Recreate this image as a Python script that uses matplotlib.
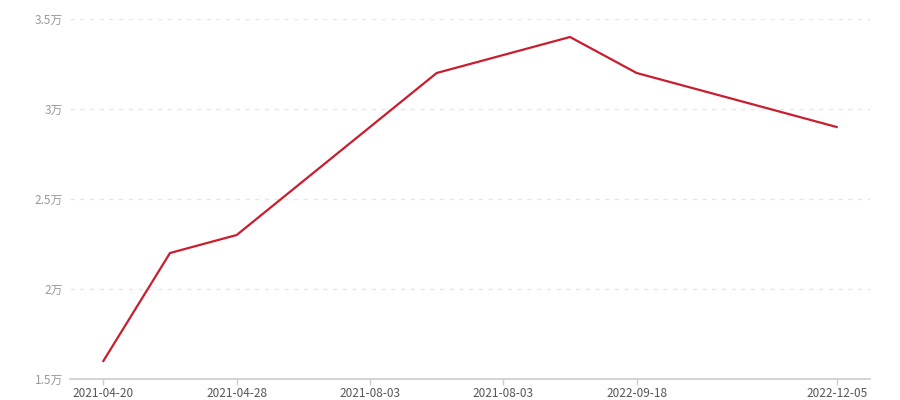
import matplotlib
matplotlib.use("Agg")
import matplotlib.pyplot as plt

plt.rcParams['font.family'] = ['Noto Sans CJK SC', 'DejaVu Sans']

n_categories = 12
tick_idx = [0, 2, 4, 6, 8, 11]
tick_labels = ["2021-04-20", "2021-04-28", "2021-08-03", "2021-08-03", "2022-09-18", "2022-12-05"]
point_idx = [0, 1, 2, 5, 7, 8, 11]
values = [16000, 22000, 23000, 32000, 34000, 32000, 29000]
y_ticks = [15000, 20000, 25000, 30000, 35000]

fig = plt.figure(figsize=(9, 4), dpi=100)
ax = fig.add_axes([70/900, 21/400, 800/900, 360/400])

ax.plot(point_idx, values, color="#c81e2d", linewidth=1.6, solid_joinstyle="miter")

ax.set_xlim(-0.5, n_categories - 0.5)
ax.set_ylim(15000, 35000)
ax.set_yticks(y_ticks)
ax.set_yticklabels([f"{v/10000:g}万" for v in y_ticks])
ax.set_xticks(tick_idx)
ax.set_xticklabels(tick_labels)

for v in y_ticks[1:]:
    ax.axhline(v, color="#e6e6e6", linewidth=1, linestyle=(0, (3, 4)), zorder=0)

for s in ["top", "right", "left"]:
    ax.spines[s].set_visible(False)
ax.spines["bottom"].set_color("#cccccc")
ax.spines["bottom"].set_linewidth(1.2)

ax.tick_params(axis="y", length=0, pad=5, labelsize=8.5, labelcolor="#999999")
ax.tick_params(axis="x", length=4, width=1, color="#cccccc", pad=2, labelsize=8.5, labelcolor="#555555")

fig.savefig("out.png", dpi=100, facecolor="white")
